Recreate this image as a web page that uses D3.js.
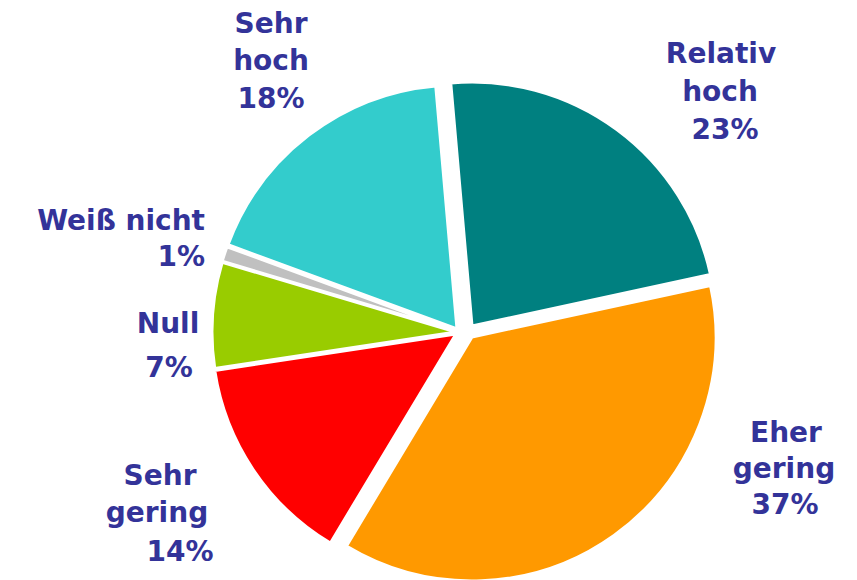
<!DOCTYPE html>
<html>
<head>
<meta charset="utf-8">
<script src="https://cdn.jsdelivr.net/npm/d3@7"></script>
<style>
  body { margin: 0; background: #fff; }
  text { font-family: "DejaVu Sans", Verdana, sans-serif; font-weight: bold; fill: #333399; }
</style>
</head>
<body>
<script>
// data
var categories = ['Relativ hoch', 'Eher gering', 'Sehr gering', 'Null', 'Weiß nicht', 'Sehr hoch']
var values = [23, 37, 14, 7, 1, 18]
var colors = ['#008080', '#FF9900', '#FF0000', '#99CC00', '#C0C0C0', '#33CCCC']
var labelLines = [
    ['Relativ', 'hoch', '23%'],
    ['Eher', 'gering', '37%'],
    ['Sehr', 'gering', '14%'],
    ['Null', '7%'],
    ['Weiß nicht', '1%'],
    ['Sehr', 'hoch', '18%']
]

// layout
var width = 857
var height = 580
var center = {x: 458, y: 332}
var radius = 244
// slice shift away from centre [dx, dy]
var shift = [[14, -6], [14, 5], [-2, 2], [-2, 0], [-2, -1], [-1, -3]]
// label anchors: one [x, y, anchor] per line
var labelPos = [
    [[721, 63, 'middle'], [720, 101, 'middle'], [725, 139, 'middle']],
    [[786, 442, 'middle'], [784, 478, 'middle'], [785, 514, 'middle']],
    [[160, 485, 'middle'], [157, 522, 'middle'], [180, 561, 'middle']],
    [[168, 333, 'middle'], [169, 377, 'middle']],
    [[205, 230, 'end'], [205, 266, 'end']],
    [[271, 33, 'middle'], [271, 70, 'middle'], [271, 108, 'middle']]
]

var svg = d3.select('body').append('svg')
    .attr('width', width)
    .attr('height', height)

var pie = d3.pie()
    .sort(null)
    .value(function(d){ return d })
    .startAngle(-5 * Math.PI / 180)
    .endAngle(355 * Math.PI / 180)

var arc = d3.arc()
    .innerRadius(0)
    .outerRadius(radius)

var chart = svg.append('g')
    .attr('transform', 'translate(' + center.x + ',' + center.y + ')')

chart.selectAll('path')
    .data(pie(values))
    .enter()
    .append('path')
    .attr('d', arc)
    .attr('transform', function(d, i){ return 'translate(' + shift[i][0] + ',' + shift[i][1] + ')' })
    .attr('fill', function(d, i){ return colors[i] })
    .attr('stroke', '#fff')
    .attr('stroke-width', 3)
    .attr('stroke-linejoin', 'round')

// labels
var labels = svg.append('g')
labelLines.forEach(function(lines, i){
    lines.forEach(function(line, j){
        labels.append('text')
            .attr('x', labelPos[i][j][0])
            .attr('y', labelPos[i][j][1])
            .attr('text-anchor', labelPos[i][j][2])
            .attr('font-size', 28)
            .text(line)
    })
})
</script>
</body>
</html>
